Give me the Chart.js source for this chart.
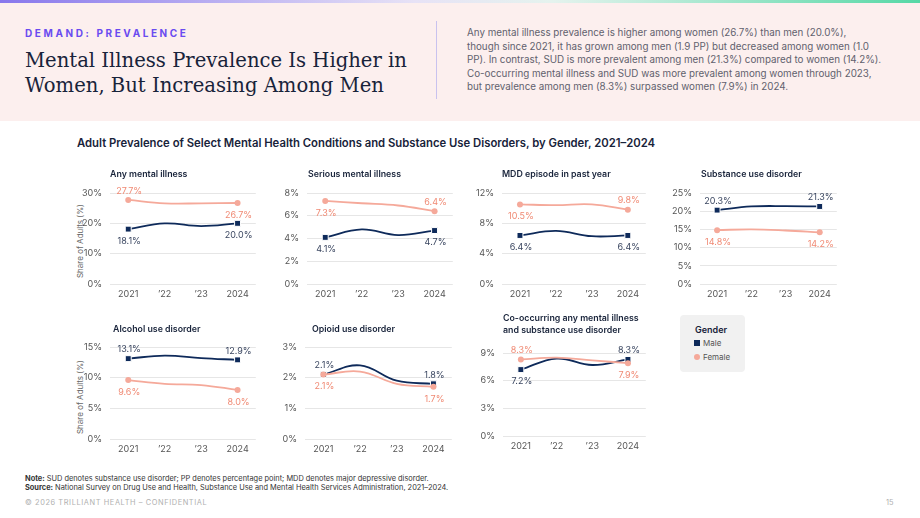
<!DOCTYPE html>
<html>
<head>
<meta charset="utf-8">
<script src="https://cdn.jsdelivr.net/npm/chart.js@4.4.1/dist/chart.umd.min.js"></script>
<style>
  html, body { margin: 0; padding: 0; }
  body { width: 920px; height: 518px; position: relative; overflow: hidden; background: #fff; font-family: Inter, "Noto Sans", sans-serif; }
  .abs { position: absolute; white-space: nowrap; }
  #header { position: absolute; left: 0; top: 0; width: 920px; height: 121px; background: #fcefee; }
  #topbar { position: absolute; left: 0; top: 0; width: 920px; height: 3px; background: linear-gradient(90deg, #8877ec 0%, #e7e2f6 45%, #e5f3ee 60%, #56d8a6 100%); }
  #kicker { left: 25px; top: 27px; font-size: 10px; font-weight: 700; letter-spacing: 2.6px; color: #6a4bf0; }
  #title { left: 25px; top: 48px; font-family: "DejaVu Serif", serif; font-size: 19.6px; line-height: 25px; color: #18233a; }
  #divider { left: 436px; top: 21px; width: 1px; height: 78px; background: #c9c2ee; }
  #para { left: 467px; top: 26px; font-size: 9.8px; line-height: 13.6px; color: #61616d; }
  #ctitle { left: 77px; top: 136px; font-size: 11.3px; font-weight: 600; color: #18233a; }
  .ptitle { font-size: 8.8px; font-weight: 600; color: #18233a; line-height: 11.5px; }
  .ytitle { font-size: 8px; color: #666; transform: translate(-50%, -50%) rotate(-90deg); }
  canvas { position: absolute; }
  #legend { left: 680px; top: 315px; width: 65px; height: 57px; background: #f1f1f1; border-radius: 4px; }
  .foot { font-size: 7.4px; color: #333; }
  #copy { left: 25px; top: 498px; font-size: 7.4px; letter-spacing: 0.6px; color: #b0b0b0; }
  #pnum { left: 886px; top: 498px; font-size: 7.4px; color: #b0b0b0; }
</style>
</head>
<body>
<div id="header"></div>
<div id="topbar"></div>
<div id="kicker" class="abs">DEMAND: PREVALENCE</div>
<div id="title" class="abs">Mental Illness Prevalence Is Higher in<br>Women, But Increasing Among Men</div>
<div id="divider" class="abs"></div>
<div id="para" class="abs">Any mental illness prevalence is higher among women (26.7%) than men (20.0%),<br>though since 2021, it has grown among men (1.9 PP) but decreased among women (1.0<br>PP). In contrast, SUD is more prevalent among men (21.3%) compared to women (14.2%).<br>Co-occurring mental illness and SUD was more prevalent among women through 2023,<br>but prevalence among men (8.3%) surpassed women (7.9%) in 2024.</div>
<div id="ctitle" class="abs">Adult Prevalence of Select Mental Health Conditions and Substance Use Disorders, by Gender, 2021–2024</div>

<div class="abs ytitle" style="left:80px; top:241px;">Share of Adults (%)</div>
<div class="abs ytitle" style="left:80px; top:397px;">Share of Adults (%)</div>

<div id="legend" class="abs">
  <div class="abs" style="left:15px; top:9px; font-size:9px; font-weight:600; color:#18233a;">Gender</div>
  <div class="abs" style="left:14px; top:25px; width:6px; height:6px; background:#0e2a5a;"></div>
  <div class="abs" style="left:23px; top:23px; font-size:8px; color:#555;">Male</div>
  <div class="abs" style="left:14px; top:39px; width:6px; height:6px; border-radius:3px; background:#f5a99a;"></div>
  <div class="abs" style="left:23px; top:37px; font-size:8px; color:#555;">Female</div>
</div>

<div class="abs foot" style="left:25px; top:474px;"><b>Note:</b> SUD denotes substance use disorder; PP denotes percentage point; MDD denotes major depressive disorder.</div>
<div class="abs foot" style="left:25px; top:483px;"><b>Source:</b> National Survey on Drug Use and Health, Substance Use and Mental Health Services Administration, 2021–2024.</div>
<div id="copy" class="abs">© 2026 TRILLIANT HEALTH – CONFIDENTIAL</div>
<div id="pnum" class="abs">15</div>

<script>
// data
const years = ['2021', '’22', '’23', '2024'];
const panelTitles = [
  ['Any mental illness'],
  ['Serious mental illness'],
  ['MDD episode in past year'],
  ['Substance use disorder'],
  ['Alcohol use disorder'],
  ['Opioid use disorder'],
  ['Co-occurring any mental illness', 'and substance use disorder']
];
const maleAMI = [18.1, 20.0, 19.1, 20.0];
const femaleAMI = [27.7, 26.6, 26.6, 26.7];
const maleSMI = [4.1, 4.8, 4.3, 4.7];
const femaleSMI = [7.3, 7.1, 6.9, 6.4];
const maleMDD = [6.4, 7.0, 6.3, 6.4];
const femaleMDD = [10.5, 10.4, 10.5, 9.8];
const maleSUD = [20.3, 21.3, 21.4, 21.3];
const femaleSUD = [14.8, 15.0, 14.7, 14.2];
const maleAUD = [13.1, 13.6, 13.2, 12.9];
const femaleAUD = [9.6, 9.0, 8.8, 8.0];
const maleOUD = [2.1, 2.4, 1.9, 1.8];
const femaleOUD = [2.1, 2.2, 1.8, 1.7];
const maleCo = [7.2, 8.4, 7.7, 8.3];
const femaleCo = [8.3, 8.5, 8.2, 7.9];
const yMax = [30, 8, 12, 25, 15, 3, 9];
const yStep = [10, 2, 4, 5, 5, 1, 3];

const MALE = '#0e2a5a', FEMALE = '#f5a99a';
const MALE_LBL = '#3a4660', FEMALE_LBL = '#f08a74';

// plot boxes and label placement (up / down for first and last point)
const panels = [
  { male: maleAMI, female: femaleAMI, box: [110, 193, 257, 284], mPos: ['d', 'd'], fPos: ['u', 'd'] },
  { male: maleSMI, female: femaleSMI, box: [307, 193, 454, 284], mPos: ['d', 'd'], fPos: ['d', 'u'] },
  { male: maleMDD, female: femaleMDD, box: [502, 193, 647, 284], mPos: ['d', 'd'], fPos: ['d', 'u'] },
  { male: maleSUD, female: femaleSUD, box: [700, 193, 838, 284], mPos: ['u', 'u'], fPos: ['d', 'd'] },
  { male: maleAUD, female: femaleAUD, box: [110, 347, 257, 439], mPos: ['u', 'u'], fPos: ['d', 'd'] },
  { male: maleOUD, female: femaleOUD, box: [305, 347, 453, 439], mPos: ['u', 'u'], fPos: ['d', 'd'] },
  { male: maleCo, female: femaleCo, box: [503, 353, 647, 436], mPos: ['d', 'u'], fPos: ['u', 'd'] }
];
const titlePos = [[110, 168], [308, 168], [502, 168], [701, 168], [113, 323], [312, 323], [503, 312]];

const endLabels = {
  id: 'endLabels',
  afterDatasetsDraw(chart) {
    const ctx = chart.ctx;
    ctx.save();
    ctx.font = '9px Inter';
    ctx.textAlign = 'center';
    ctx.textBaseline = 'middle';
    chart.data.datasets.forEach((ds, i) => {
      const meta = chart.getDatasetMeta(i);
      [0, ds.data.length - 1].forEach((idx, k) => {
        const pt = meta.data[idx];
        const dy = ds.labelPos[k] === 'u' ? -9 : 12;
        ctx.fillStyle = ds.labelColor;
        ctx.fillText(ds.data[idx].toFixed(1) + '%', pt.x + 1, pt.y + dy);
      });
    });
    ctx.restore();
  }
};

panels.forEach((p, i) => {
  const [l, t, r, b] = p.box;
  const padTop = 14, axisW = 40, axisH = 22, padRight = 4;
  const cv = document.createElement('canvas');
  cv.width = (r - l) + axisW + padRight;
  cv.height = (b - t) + padTop + axisH;
  cv.style.left = (l - axisW) + 'px';
  cv.style.top = (t - padTop) + 'px';
  document.body.appendChild(cv);

  const tdiv = document.createElement('div');
  tdiv.className = 'abs ptitle';
  tdiv.style.left = titlePos[i][0] + 'px';
  tdiv.style.top = titlePos[i][1] + 'px';
  tdiv.innerHTML = panelTitles[i].join('<br>');
  document.body.appendChild(tdiv);

  const ends = (arr, rr) => arr.map((v, j) => (j === 0 || j === arr.length - 1) ? rr : 0);

  new Chart(cv.getContext('2d'), {
    type: 'line',
    data: {
      labels: years,
      datasets: [
        {
          label: 'Female', data: p.female, borderColor: FEMALE, backgroundColor: FEMALE,
          borderWidth: 1.8, tension: 0.4, pointStyle: 'circle', pointRadius: ends(p.female, 3),
          pointBorderWidth: 0, labelColor: FEMALE_LBL, labelPos: p.fPos
        },
        {
          label: 'Male', data: p.male, borderColor: MALE, backgroundColor: MALE,
          borderWidth: 1.8, tension: 0.4, pointStyle: 'rect', pointRadius: ends(p.male, 4.2),
          pointBorderWidth: 1, pointBorderColor: '#ffffff', labelColor: MALE_LBL, labelPos: p.mPos
        }
      ]
    },
    options: {
      responsive: false,
      animation: false,
      devicePixelRatio: 1,
      layout: { padding: { top: padTop, right: padRight, left: 0, bottom: 0 } },
      plugins: { legend: { display: false }, tooltip: { enabled: false } },
      scales: {
        x: {
          offset: true,
          grid: { display: false, drawTicks: false },
          border: { display: false },
          ticks: { color: '#555', font: { family: 'Inter', size: 9 }, padding: 5, maxRotation: 0 },
          afterFit: s => { s.height = axisH; }
        },
        y: {
          min: 0, max: yMax[i],
          grid: { color: '#e6e6e6', drawTicks: false, lineWidth: 1 },
          border: { display: false },
          ticks: {
            stepSize: yStep[i], color: '#555', padding: 8,
            font: { family: 'Inter', size: 9 },
            callback: v => v + '%'
          },
          afterFit: s => { s.width = axisW; }
        }
      }
    },
    plugins: [endLabels]
  });
});
</script>
</body>
</html>
